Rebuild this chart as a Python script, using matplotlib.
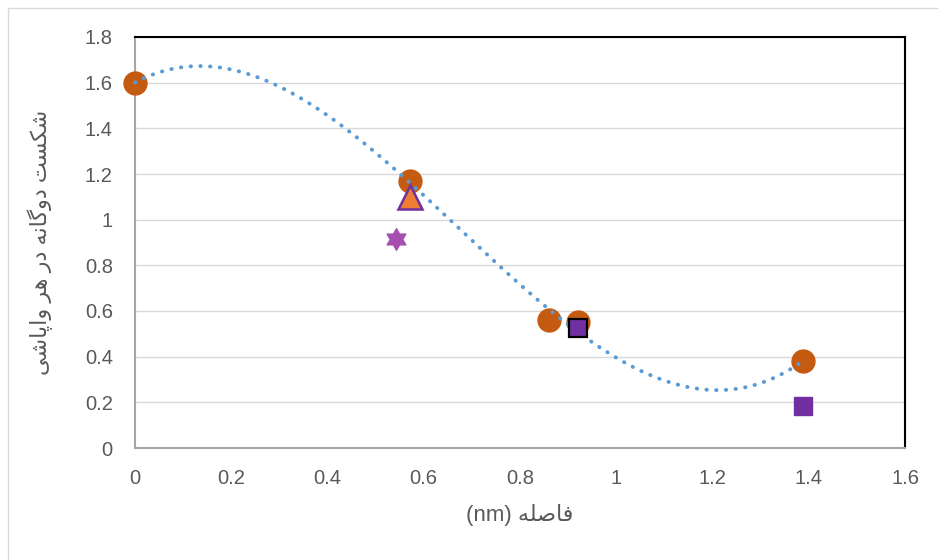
import numpy as np
import matplotlib.pyplot as plt
from matplotlib.patches import Rectangle
from matplotlib.path import Path

# data
circle_x = [0.0, 0.571, 0.860, 0.920, 1.388]
circle_y = [1.60, 1.17, 0.56, 0.55, 0.38]
tri_x = [0.571]
tri_y = [1.10]
star_x = [0.543]
star_y = [0.915]
sq_black_x = [0.920]
sq_black_y = [0.527]
sq_x = [1.388]
sq_y = [0.184]

xticks = [0, 0.2, 0.4, 0.6, 0.8, 1, 1.2, 1.4, 1.6]
yticks = [0, 0.2, 0.4, 0.6, 0.8, 1, 1.2, 1.4, 1.6, 1.8]

# Persian labels written in presentation forms, visual (left-to-right) order
xlabel = '(nm) ' + '\uFEEA\uFEE0\uFEBB\uFE8E\uFED3'
w_vapashi = '\uFBFD\uFEB7\uFE8E\uFB58\uFE8D\uFEED'
w_har = '\uFEAE\uFEEB'
w_dar = '\uFEAD\uFEA9'
w_dogane = '\uFEEA\uFEE7\uFE8E\uFB94\uFEED\uFEA9'
w_shekast = '\uFE96\uFEB4\uFB91\uFEB7'
ylabel = ' '.join([w_vapashi, w_har, w_dar, w_dogane, w_shekast])

fonts = ['Liberation Sans', 'DejaVu Sans']
plt.rcParams['font.family'] = fonts
txt = '#595959'

fig = plt.figure(figsize=(9.38, 5.6), dpi=100)
fig.patches.append(Rectangle((8 / 938, -0.1), 1.2, 1.1 - 8 / 560,
                             transform=fig.transFigure, fill=False,
                             edgecolor='#d9d9d9', linewidth=1.0))
ax = fig.add_axes([135 / 938, 1 - 448 / 560, 770 / 938, 411 / 560])

# cubic trendline through the circles
coef = np.polyfit(circle_x, circle_y, 3)
xs = np.linspace(0, max(circle_x), 300)
ax.plot(xs, np.polyval(coef, xs), linestyle=(0, (0.1, 2.4)), color='#5b9bd5',
        linewidth=2.8, zorder=4, dash_capstyle='round', clip_on=False)

star = Path.unit_regular_star(6, 0.577)

ax.plot(circle_x, circle_y, 'o', color='#c55a11', markersize=16.5, zorder=3,
        clip_on=False)
ax.plot(tri_x, tri_y, '^', color='#ed7d31', markeredgecolor='#7030a0',
        markeredgewidth=1.8, markersize=17.5, zorder=3)
ax.plot(star_x, star_y, marker=star, linestyle='none', color='#a64fb0',
        markersize=15.5, zorder=3)
ax.plot(sq_black_x, sq_black_y, 's', color='#7030a0', markeredgecolor='black',
        markeredgewidth=1.6, markersize=13, zorder=5)
ax.plot(sq_x, sq_y, 's', color='#7030a0', markersize=13.5, zorder=3)

ax.set_xlim(0, 1.6)
ax.set_ylim(0, 1.8)
ax.set_xticks(xticks)
ax.set_xticklabels([f'{t:g}' for t in xticks])
ax.set_yticks(yticks)
ax.set_yticklabels([f'{t:g}' for t in yticks])
ax.tick_params(length=0, labelsize=14.5, colors=txt)
ax.tick_params(axis='x', pad=15)
ax.tick_params(axis='y', pad=16)
ax.grid(True, axis='y', color='#d9d9d9', linewidth=1.0)
ax.set_axisbelow(True)

for s in ['top', 'right']:
    ax.spines[s].set_color('black')
    ax.spines[s].set_linewidth(1.5)
for s in ['left', 'bottom']:
    ax.spines[s].set_color('#a6a6a6')
    ax.spines[s].set_linewidth(1.5)

ax.set_xlabel(xlabel, fontsize=16, color=txt, labelpad=12)
ax.set_ylabel(ylabel, fontsize=16, color=txt, labelpad=23)

fig.savefig('out.png', dpi=100)
